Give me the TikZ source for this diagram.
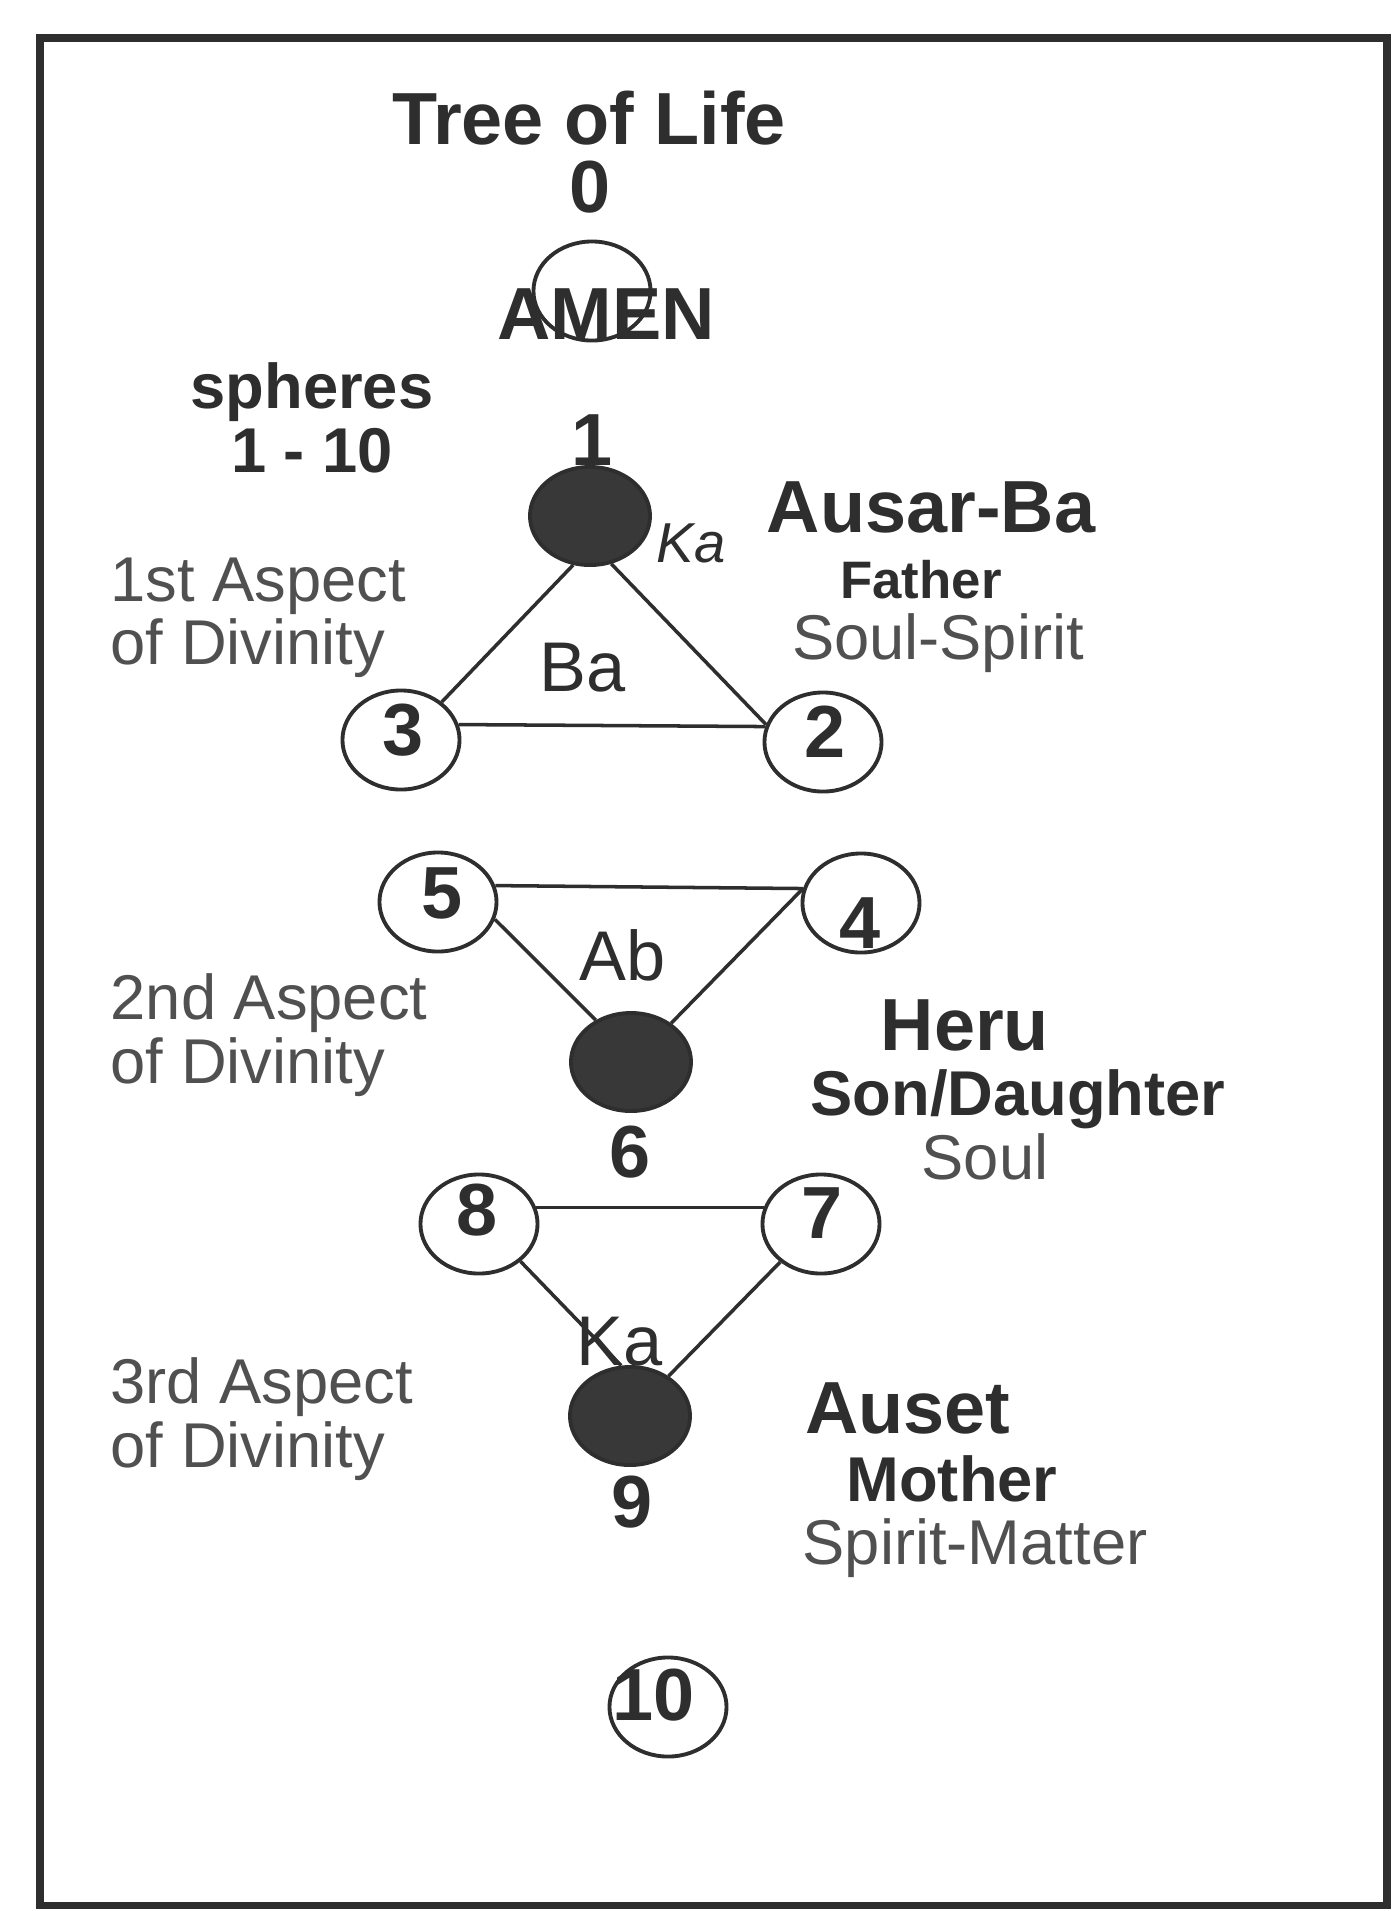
\documentclass[tikz,border=0pt]{standalone}
\usepackage{fontspec}
\setmainfont{Liberation Sans}
\usetikzlibrary{shapes.geometric}

\definecolor{ink}{HTML}{2E2E2E}
\definecolor{softink}{HTML}{505050}

\begin{document}
\begin{tikzpicture}[x=0.01cm, y=-0.01cm,
    sphere/.style={draw=ink, ellipse, line width=1.1pt, minimum width=1.17cm,
                   minimum height=0.99cm, inner sep=0pt},
    darksphere/.style={sphere, fill=black!78, minimum width=1.2cm, minimum height=0.98cm},
    link/.style={draw=ink, line width=1pt},
    num/.style={text=ink, inner sep=0pt, font=\fontsize{21}{21}\selectfont\bfseries},
    head/.style={text=ink, inner sep=0pt, font=\fontsize{21}{21}\selectfont\bfseries},
    role/.style={text=ink, inner sep=0pt, font=\fontsize{18}{18}\selectfont\bfseries},
    soft/.style={text=softink, inner sep=0pt, font=\fontsize{18}{18}\selectfont},
    aspect/.style={soft, anchor=west, align=left},
    inner/.style={text=ink, inner sep=0pt, font=\fontsize{20}{20}\selectfont}]

    \useasboundingbox (0,0) rectangle (1394,1911);
    \draw[ink, line width=2pt] (40,38) rectangle (1387,1905);

    % top
    \node[head] (title) at (589,118) {Tree of Life};
    \node[num] (d0) at (590,187) {0};
    \node[sphere] (amen) at (592,291) {};
    \node[head] (amenlbl) at (606,314) {AMEN};
    \node[text=ink, inner sep=0pt, font=\fontsize{18}{18}\selectfont\bfseries, align=center]
        (spheres) at (312,418) {spheres\\1 - 10};

    % spheres
    \node[darksphere] (n1) at (590,516) {};
    \node[sphere] (n2) at (823,742) {};
    \node[sphere] (n3) at (401,740) {};
    \node[sphere] (n4) at (861,903) {};
    \node[sphere] (n5) at (438,902) {};
    \node[darksphere] (n6) at (631,1062) {};
    \node[sphere] (n7) at (821,1224) {};
    \node[sphere] (n8) at (479,1224) {};
    \node[darksphere] (n9) at (630,1416) {};
    \node[sphere] (n10) at (668,1707) {};

    \node[num] (d1) at (592,440) {1};
    \node[num] (d2) at (825,732) {2};
    \node[num] (d3) at (403,730) {3};
    \node[num] (d4) at (860,923) {4};
    \node[num] (d5) at (442,893) {5};
    \node[num] (d6) at (630,1152) {6};
    \node[num] (d7) at (822,1213) {7};
    \node[num] (d8) at (477,1210) {8};
    \node[num] (d9) at (632,1502) {9};
    \node[num] (d10) at (654,1695) {10};

    % triangles
    \draw[link] (n1.-109) -- (n3.43);
    \draw[link] (n1.-66) -- (n2.163);
    \draw[link] (n3.15) -- (n2.165);
    \draw[link] (n5.16) -- (n4.166);
    \draw[link] (n5.-17) -- (n6.130);
    \draw[link] (n4.166) -- (n6.44);
    \draw[link] (n8.16) -- (n7.164);
    \draw[link] (n8.-42) -- (n9.100);
    \draw[link] (n7.-137) -- (n9.46);

    \node[text=ink, inner sep=0pt, font=\fontsize{16}{16}\selectfont\itshape] (ka1) at (691,543) {Ka};
    \node[inner] (ba) at (583,668) {Ba};
    \node[inner] (ab) at (623,955) {Ab};
    \node[inner] (ka2) at (620,1342) {Ka};

    % left side
    \node[aspect] (asp1) at (110,618) {1st Aspect\\of Divinity};
    \node[aspect] (asp2) at (110,1035) {2nd Aspect\\of Divinity};
    \node[aspect] (asp3) at (110,1419) {3rd Aspect\\of Divinity};

    % right side
    \node[head] (ausar) at (931,507) {Ausar-Ba};
    \node[role, font=\fontsize{15}{15}\selectfont\bfseries] (father) at (921,580) {Father};
    \node[soft] (soulspirit) at (938,643) {Soul-Spirit};
    \node[head] (heru) at (965,1025) {Heru};
    \node[role] (son) at (1018,1099) {Son/Daughter};
    \node[soft] (soul) at (985,1157) {Soul};
    \node[head] (auset) at (908,1408) {Auset};
    \node[role] (mother) at (952,1479) {Mother};
    \node[soft] (spiritmatter) at (975,1548) {Spirit-Matter};
\end{tikzpicture}
\end{document}
